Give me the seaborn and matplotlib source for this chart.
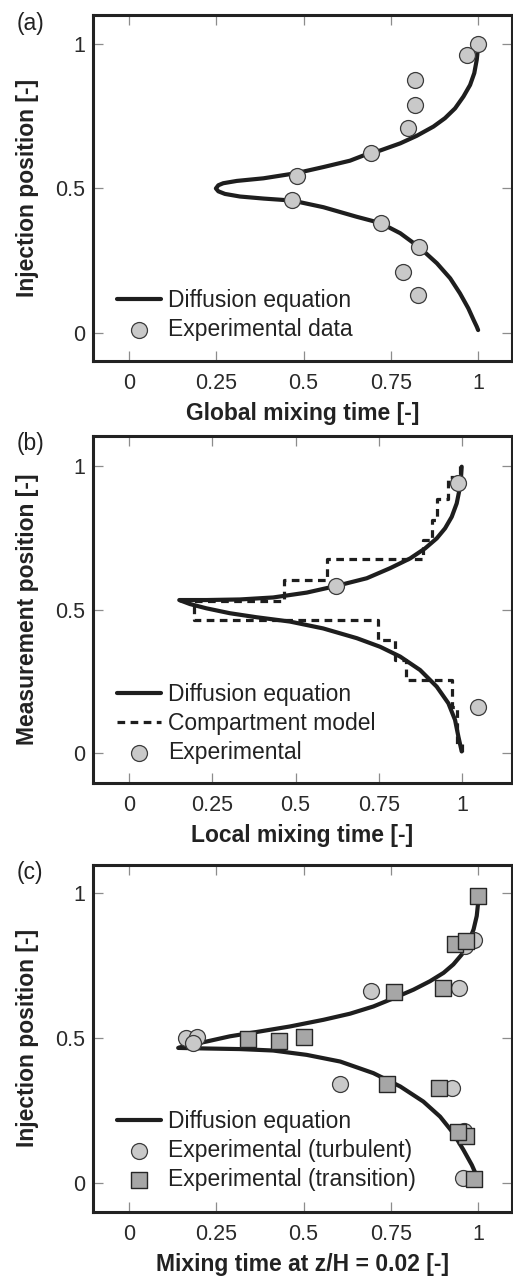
import numpy as np
import pandas as pd
import matplotlib
matplotlib.use("Agg")
import matplotlib.pyplot as plt
import seaborn as sns

# ---------------- data ----------------
# (a) global mixing time vs injection position
a_curve_x = [1.0, 0.999, 0.996, 0.989, 0.977, 0.958, 0.934, 0.905, 0.872, 0.824,
             0.777, 0.719, 0.693, 0.633, 0.557, 0.480, 0.385, 0.309, 0.270, 0.256,
             0.249, 0.256, 0.275, 0.318, 0.385, 0.468, 0.557, 0.652, 0.721, 0.777,
             0.831, 0.882, 0.920, 0.948, 0.972, 0.987, 0.996, 1.0]
a_curve_y = [0.99, 0.979, 0.945, 0.899, 0.858, 0.818, 0.777, 0.743, 0.714, 0.682,
             0.656, 0.631, 0.624, 0.596, 0.574, 0.553, 0.535, 0.526, 0.518, 0.511,
             0.500, 0.490, 0.481, 0.472, 0.465, 0.458, 0.435, 0.402, 0.380, 0.345,
             0.297, 0.241, 0.189, 0.137, 0.085, 0.045, 0.022, 0.01]
a_exp_x = [0.999, 0.969, 0.818, 0.818, 0.800, 0.694, 0.480, 0.468, 0.721, 0.831, 0.786, 0.829]
a_exp_y = [1.0, 0.962, 0.874, 0.789, 0.709, 0.623, 0.543, 0.460, 0.380, 0.297, 0.212, 0.131]

# (b) local mixing time vs measurement position
b_curve_x = [0.999, 0.997, 0.992, 0.984, 0.969, 0.949, 0.924, 0.889, 0.844, 0.784,
             0.714, 0.622, 0.534, 0.433, 0.333, 0.233, 0.151, 0.183, 0.233, 0.303,
             0.383, 0.483, 0.583, 0.684, 0.754, 0.814, 0.874, 0.924, 0.959, 0.979,
             0.989, 0.999]
b_curve_y = [0.998, 0.963, 0.916, 0.870, 0.823, 0.783, 0.748, 0.713, 0.678, 0.644,
             0.609, 0.582, 0.559, 0.542, 0.535, 0.533, 0.533, 0.519, 0.504, 0.487,
             0.473, 0.458, 0.434, 0.400, 0.370, 0.336, 0.289, 0.231, 0.173, 0.115,
             0.057, 0.005]
b_comp_bounds = [1.0, 0.962, 0.884, 0.812, 0.742, 0.675, 0.603, 0.531, 0.463,
                 0.394, 0.324, 0.254, 0.161, 0.03, 0.0]
b_comp_values = [0.995, 0.958, 0.924, 0.909, 0.882, 0.594, 0.465, 0.196, 0.749,
                 0.799, 0.832, 0.969, 0.984, 1.0]
b_exp_x = [0.989, 0.622, 1.047]
b_exp_y = [0.940, 0.582, 0.159]

# (c) mixing time at z/H = 0.02 vs injection position
c_curve_x = [1.0, 1.0, 0.996, 0.987, 0.972, 0.953, 0.929, 0.901, 0.862, 0.815,
             0.759, 0.700, 0.633, 0.557, 0.461, 0.366, 0.289, 0.222, 0.175, 0.141,
             0.222, 0.318, 0.413, 0.509, 0.605, 0.700, 0.777, 0.843, 0.891, 0.929,
             0.958, 0.982, 0.996, 1.0]
c_curve_y = [0.985, 0.968, 0.922, 0.876, 0.830, 0.789, 0.755, 0.726, 0.697, 0.668,
             0.639, 0.610, 0.585, 0.564, 0.541, 0.522, 0.507, 0.489, 0.477, 0.467,
             0.465, 0.463, 0.458, 0.443, 0.420, 0.380, 0.334, 0.282, 0.230, 0.173,
             0.115, 0.063, 0.025, 0.03]
c_turb_x = [0.989, 0.963, 0.693, 0.944, 0.162, 0.196, 0.184, 0.605, 0.924, 0.960, 0.958]
c_turb_y = [0.838, 0.818, 0.662, 0.675, 0.501, 0.506, 0.485, 0.343, 0.328, 0.180, 0.017]
c_trans_x = [1.001, 0.934, 0.965, 0.759, 0.899, 0.342, 0.430, 0.502, 0.740, 0.888, 0.965, 0.942, 0.989]
c_trans_y = [0.991, 0.824, 0.837, 0.660, 0.675, 0.498, 0.491, 0.506, 0.343, 0.328, 0.163, 0.177, 0.016]

x_ticks = [0, 0.25, 0.5, 0.75, 1]
x_ticklabels = ["0", "0.25", "0.5", "0.75", "1"]
y_ticks = [0, 0.5, 1]
y_ticklabels = ["0", "0.5", "1"]

# ---------------- style ----------------
sns.set_style("white")
plt.rcParams['font.family'] = ['Liberation Sans', 'DejaVu Sans']
TXT = "#222222"
plt.rcParams['text.color'] = TXT

LINE_C = "#1e1e1e"
CIRC_FC, CIRC_EC = "#c9c9c9", "#3a3a3a"
SQ_FC, SQ_EC = "#a6a6a6", "#262626"
FS_LAB = 16.5
FS_TICK = 15.5

W, H = 513, 1276
fig = plt.figure(figsize=(W / 100, H / 100), dpi=100)

def make_ax(top_px, bot_px):
    return fig.add_axes([93 / W, 1 - bot_px / H, 419 / W, (bot_px - top_px) / H])

axA = make_ax(15, 361)
axB = make_ax(436, 783)
axC = make_ax(865, 1211.7)


def style(ax, xlim, ylim, xlabel, ylabel):
    ax.set_xlim(*xlim)
    ax.set_ylim(*ylim)
    ax.set_xticks(x_ticks)
    ax.set_xticklabels(x_ticklabels)
    ax.set_yticks(y_ticks)
    ax.set_yticklabels(y_ticklabels)
    ax.tick_params(direction='in', length=7, width=0.9, color='#8c8c8c',
                   top=True, right=True, bottom=True, left=True,
                   labelsize=FS_TICK, labelcolor="#2a2a2a")
    ax.tick_params(axis='x', pad=8.5)
    ax.tick_params(axis='y', pad=5.5)
    for s in ax.spines.values():
        s.set_visible(True)
        s.set_linewidth(2.2)
        s.set_color("#222222")
    ax.set_xlabel(xlabel, fontsize=FS_LAB, fontweight='bold', color=TXT)
    ax.set_ylabel(ylabel, fontsize=FS_LAB, fontweight='bold', color=TXT)
    ax.xaxis.set_label_coords(0.5, -0.118)
    ax.yaxis.set_label_coords(-0.129, 0.5)
    ax.grid(False)


def curve(ax, xs, ys, label, **kw):
    df = pd.DataFrame({"x": xs, "y": ys})
    sns.lineplot(data=df, x="x", y="y", sort=False, estimator=None, ax=ax,
                 color=LINE_C, linewidth=3.0, label=label, zorder=2, **kw)


def circles(ax, xs, ys, label):
    sns.scatterplot(x=xs, y=ys, ax=ax, marker='o', s=132, color=CIRC_FC,
                    edgecolor=CIRC_EC, linewidth=0.9, label=label, zorder=3)


def squares(ax, xs, ys, label):
    sns.scatterplot(x=xs, y=ys, ax=ax, marker='s', s=118, color=SQ_FC,
                    edgecolor=SQ_EC, linewidth=1.0, label=label, zorder=4)


def legend(ax, y0):
    ax.legend(loc='lower left', bbox_to_anchor=(0.057, y0), frameon=False,
              fontsize=FS_LAB, handlelength=1.92, handletextpad=0.3,
              labelspacing=0.25, borderpad=0, borderaxespad=0, scatterpoints=1)


# (a)
curve(axA, a_curve_x, a_curve_y, "Diffusion equation")
circles(axA, a_exp_x, a_exp_y, "Experimental data")
style(axA, (-0.103, 1.097), (-0.097, 1.1), "Global mixing time [-]", "Injection position [-]")
legend(axA, 0.058)

# (b)
curve(axB, b_curve_x, b_curve_y, "Diffusion equation")
comp_x, comp_y = [], []
for i, v in enumerate(b_comp_values):
    comp_x += [v, v]
    comp_y += [b_comp_bounds[i], b_comp_bounds[i + 1]]
curve(axB, comp_x, comp_y, "Compartment model")
axB.lines[-1].set_linewidth(2.3)
axB.lines[-1].set_linestyle((0, (2.4, 1.7)))
circles(axB, b_exp_x, b_exp_y, "Experimental")
style(axB, (-0.108, 1.15), (-0.105, 1.105), "Local mixing time [-]", "Measurement position [-]")
legend(axB, 0.055)

# (c)
curve(axC, c_curve_x, c_curve_y, "Diffusion equation")
circles(axC, c_turb_x, c_turb_y, "Experimental (turbulent)")
squares(axC, c_trans_x, c_trans_y, "Experimental (transition)")
style(axC, (-0.103, 1.097), (-0.098, 1.098), "Mixing time at z/H = 0.02 [-]", "Injection position [-]")
legend(axC, 0.06)

for lab, ytop in [("(a)", 12), ("(b)", 432), ("(c)", 861)]:
    fig.text(17 / W, 1 - ytop / H, lab, fontsize=FS_LAB, va='top', ha='left', color=TXT)

fig.savefig("out.png", dpi=100)
